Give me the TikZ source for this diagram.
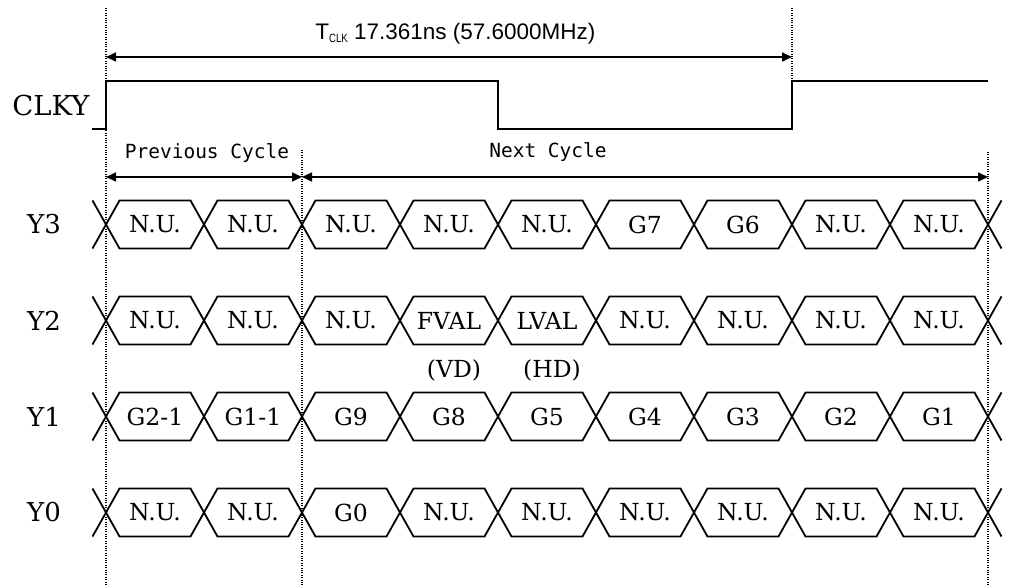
\documentclass[tikz,border=0pt]{standalone}
\usepackage{fontspec}
\setmainfont{DejaVu Serif}
\newfontfamily\arialfont{Liberation Sans}
\newfontfamily\gothfont{DejaVu Sans Mono}
\usetikzlibrary{arrows.meta}
\begin{document}
\begin{tikzpicture}[x=1pt,y=-1pt,
  wave/.style={line width=1.8pt,line join=miter,miter limit=10},
  guide/.style={line width=1.1pt,dash pattern=on 1.1pt off 1.3pt},
  dimarrow/.style={line width=1.6pt,{Triangle[length=10pt,width=9pt]}-{Triangle[length=10pt,width=9pt]}},
  celltext/.style={font=\fontsize{23.5}{26}\selectfont,inner sep=0pt},
  siglabel/.style={font=\fontsize{26}{30}\selectfont,inner sep=0pt},
  cyclelabel/.style={font=\gothfont\fontsize{19.5}{22}\selectfont,inner sep=0pt}]
\useasboundingbox (0,0) rectangle (1018,585);
% guide coordinates
\coordinate (g1t) at (106,8);   \coordinate (g1b) at (106,585);
\coordinate (g2t) at (302,150); \coordinate (g2b) at (302,585);
\coordinate (g3t) at (792,8);   \coordinate (g3b) at (792,81);
\coordinate (g4t) at (988,152); \coordinate (g4b) at (988,585);
\draw[guide] (g1t) -- (g1b);
\draw[guide] (g2t) -- (g2b);
\draw[guide] (g3t) -- (g3b);
\draw[guide] (g4t) -- (g4b);
% T_CLK
\coordinate (tA) at (106,57); \coordinate (tB) at (792,57);
\draw[dimarrow] (tA) -- (tB);
\node[font=\arialfont\fontsize{22.5}{26}\selectfont,anchor=base,inner sep=0pt] (tclk) at (455.5,40)
  {T\raisebox{-2.5pt}{\fontsize{12}{12}\selectfont\addfontfeatures{FakeStretch=0.8}CLK} 17.361ns (57.6000MHz)};
% CLKY
\node[siglabel,font=\fontsize{27.5}{30}\selectfont] (clkylab) at (51,105) {CLKY};
\draw[wave] (92,129) -- (106,129) -- (106,81) -- (498,81) -- (498,129) -- (792,129) -- (792,81) -- (988,81);
% cycles
\node[cyclelabel] (prev) at (207,153) {Previous Cycle};
\node[cyclelabel] (next) at (548,152) {Next Cycle};
\coordinate (pA) at (106,177); \coordinate (pB) at (302,177); \coordinate (nB) at (988,177);
\draw[dimarrow] (pA) -- (pB);
\draw[dimarrow] (pB) -- (nB);
% bus rows
\foreach \yy/\lab/\cells in {
  224.5/Y3/{N.U.,N.U.,N.U.,N.U.,N.U.,G7,G6,N.U.,N.U.},
  320.5/Y2/{N.U.,N.U.,N.U.,FVAL,LVAL,N.U.,N.U.,N.U.,N.U.},
  416.5/Y1/{G2-1,G1-1,G9,G8,G5,G4,G3,G2,G1},
  512.5/Y0/{N.U.,N.U.,G0,N.U.,N.U.,N.U.,N.U.,N.U.,N.U.}} {
  \node[siglabel] (lab-\lab) at (44,\yy) {\lab};
  \draw[wave] (92.5,\yy-24) -- (106,\yy) -- (92.5,\yy+24);
  \draw[wave] (1001.5,\yy-24) -- (988,\yy) -- (1001.5,\yy+24);
  \foreach \c [count=\i from 0] in \cells {
    \pgfmathsetmacro{\xa}{106+98*\i}
    \pgfmathsetmacro{\xb}{\xa+98}
    \draw[wave] (\xa,\yy) -- (\xa+13.5,\yy-24) -- (\xb-13.5,\yy-24) -- (\xb,\yy)
      -- (\xb-13.5,\yy+24) -- (\xa+13.5,\yy+24) -- cycle;
    \node[celltext] (c-\lab-\i) at (\xa+49,\yy) {\c};
  }
}
\node[celltext] (vd) at (454,370) {(VD)};
\node[celltext] (hd) at (552,370) {(HD)};
\end{tikzpicture}
\end{document}
